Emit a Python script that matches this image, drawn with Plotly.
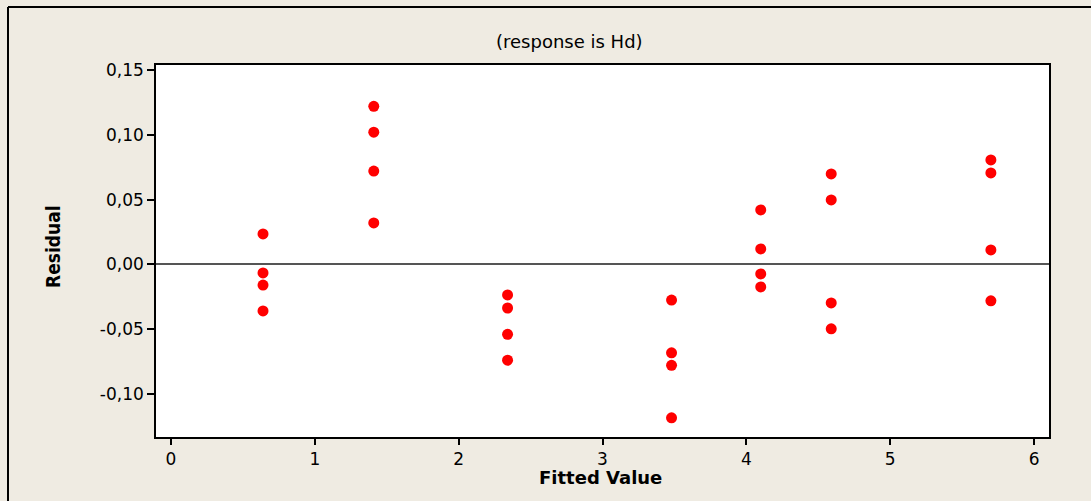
import plotly.graph_objects as go

# Data (Residuals vs Fitted Values, response is Hd)
fitted = [0.64, 0.64, 0.64, 0.64,
          1.41, 1.41, 1.41, 1.41,
          2.34, 2.34, 2.34, 2.34,
          3.48, 3.48, 3.48, 3.48,
          4.10, 4.10, 4.10, 4.10,
          4.59, 4.59, 4.59, 4.59,
          5.70, 5.70, 5.70, 5.70]
residual = [0.0235, -0.0066, -0.0160, -0.0360,
            0.1220, 0.1020, 0.0720, 0.0320,
            -0.0236, -0.0337, -0.0540, -0.0740,
            -0.0276, -0.0683, -0.0780, -0.1185,
            0.0420, 0.0119, -0.0074, -0.0174,
            0.0698, 0.0497, -0.0298, -0.0498,
            0.0806, 0.0706, 0.0111, -0.0282]

x_ticks = [0, 1, 2, 3, 4, 5, 6]
x_ticklabels = ["0", "1", "2", "3", "4", "5", "6"]
y_ticks = [0.15, 0.10, 0.05, 0.0, -0.05, -0.10]
y_ticklabels = ["0,15", "0,10", "0,05", "0,00", "-0,05", "-0,10"]

title_text = "(response is Hd)"
x_title = "Fitted Value"
y_title = "Residual"

W, H = 1091, 501
L, R, T, B = 156, 1091 - 1049, 65, 501 - 437
pw, ph = W - L - R, H - T - B


def px_x(px):
    return (px - L) / pw


def px_y(py):
    return (H - B - py) / ph


bg = "#EFEBE2"
font_main = "DejaVu Sans, Verdana, sans-serif"

fig = go.Figure()
fig.add_trace(go.Scatter(
    x=fitted, y=residual, mode="markers",
    marker=dict(color="#FF0000", size=11, line=dict(width=0)),
    showlegend=False, hoverinfo="x+y",
))

fig.update_layout(
    width=W, height=H,
    margin=dict(l=L, r=R, t=T, b=B, pad=0),
    paper_bgcolor=bg, plot_bgcolor="white",
    font=dict(family=font_main, color="black", size=17),
    xaxis=dict(
        range=[-0.104, 6.104], tickvals=x_ticks, ticktext=x_ticklabels,
        showgrid=False, zeroline=False, showline=True, linecolor="black",
        linewidth=1.5, mirror=True, ticks="outside", ticklen=6, tickwidth=1.5,
        tickcolor="black", tickfont=dict(size=17, family=font_main),
    ),
    yaxis=dict(
        range=[-0.1333, 0.1539], tickvals=y_ticks, ticktext=y_ticklabels,
        showgrid=False, zeroline=True, zerolinecolor="#555555", zerolinewidth=1.5,
        showline=True, linecolor="black", linewidth=1.5, mirror=True,
        ticks="outside", ticklen=7, tickwidth=1.5, tickcolor="black",
        tickfont=dict(size=17, family=font_main),
    ),
    shapes=[
        dict(type="line", xref="paper", yref="paper",
             x0=px_x(8), x1=px_x(W + 5), y0=px_y(7), y1=px_y(7),
             line=dict(color="black", width=2)),
        dict(type="line", xref="paper", yref="paper",
             x0=px_x(8), x1=px_x(8), y0=px_y(7), y1=px_y(H + 5),
             line=dict(color="black", width=2)),
    ],
    annotations=[
        dict(text=title_text, xref="paper", yref="paper",
             x=px_x(569), y=px_y(41), showarrow=False,
             xanchor="center", yanchor="middle",
             font=dict(size=18, family=font_main)),
        dict(text="<b>" + x_title + "</b>", xref="paper", yref="paper",
             x=px_x(600), y=px_y(478), showarrow=False,
             xanchor="center", yanchor="middle",
             font=dict(size=18, family=font_main)),
        dict(text="<b>" + y_title + "</b>", xref="paper", yref="paper",
             x=px_x(53), y=px_y(247), showarrow=False, textangle=-90,
             xanchor="center", yanchor="middle",
             font=dict(size=19, family="Liberation Sans Narrow, DejaVu Sans Condensed, Arial Narrow, sans-serif")),
    ],
)

fig.write_html("out.html")
